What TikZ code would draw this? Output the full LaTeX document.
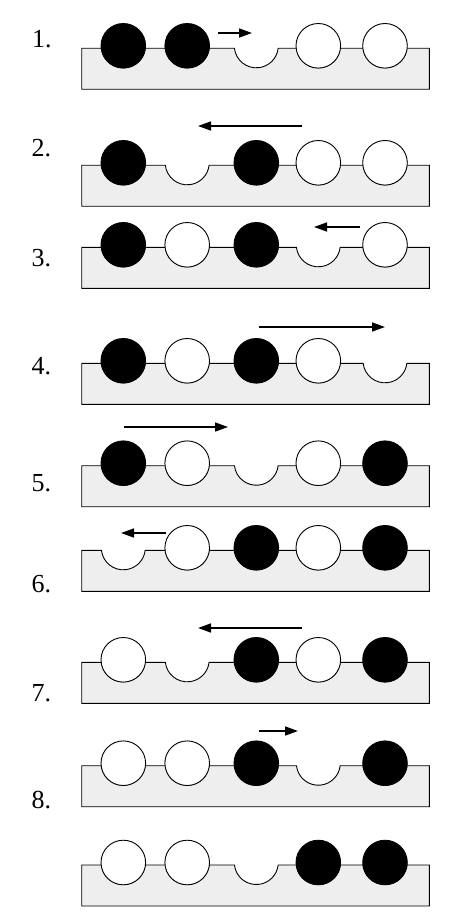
\documentclass[tikz,border=0pt]{standalone}
\usepackage{fontspec}
\setmainfont{Liberation Serif}
\usetikzlibrary{arrows.meta}
\definecolor{boardgray}{RGB}{238,238,238}
\newcommand\boardat[1]{%
  \draw[boardst] (81.7,#1) -- (101.44,#1)
    arc[start angle=173.5,end angle=6.5,radius=22] -- (165.34,#1)
    arc[start angle=173.5,end angle=6.5,radius=22] -- (234.44,#1)
    arc[start angle=173.5,end angle=6.5,radius=22] -- (296.44,#1)
    arc[start angle=173.5,end angle=6.5,radius=22] -- (363.14,#1)
    arc[start angle=173.5,end angle=6.5,radius=22] -- (429.3,#1)
    -- (429.3,#1+41) -- (81.7,#1+41) -- cycle;}
\newcommand\rowat[3]{%
  \boardat{#1}%
  \foreach \xx in {#2} {\draw[bk] (\xx,#1-2.5) circle[radius=22.3];}%
  \foreach \xx in {#3} {\draw[wt] (\xx,#1-2.5) circle[radius=22.3];}}
\begin{document}
\begin{tikzpicture}[x=1pt,y=-1pt,
  boardst/.style={draw=black, line width=0.9pt, fill=boardgray},
  bk/.style={draw=black, line width=0.9pt, fill=black},
  wt/.style={draw=black, line width=0.9pt, fill=white},
  mv/.style={line width=1.6pt, -{Triangle[length=13pt,width=9pt]}},
  lbl/.style={anchor=base west, inner sep=0pt, font=\fontsize{26}{26}\selectfont}]
\useasboundingbox (0,0) rectangle (450,917);

% labels
\node[lbl] (l1) at (32.0,47.7) {1.};
\node[lbl] (l2) at (31.5,156.7) {2.};
\node[lbl] (l3) at (31.5,266.0) {3.};
\node[lbl] (l4) at (31.5,374.3) {4.};
\node[lbl] (l5) at (31.5,491.7) {5.};
\node[lbl] (l6) at (31.5,592.3) {6.};
\node[lbl] (l7) at (31.5,701.0) {7.};
\node[lbl] (l8) at (31.5,808.3) {8.};

% rows: top line, black balls, white balls
\rowat{48.3}{123.3,187.2}{318.3,385}
\rowat{165.3}{123.3,256.3}{318.3,385}
\rowat{247.3}{123.3,256.3}{187.2,385}
\rowat{363.3}{123.3,256.3}{187.2,318.3}
\rowat{465.7}{123.3,385}{187.2,318.3}
\rowat{550.3}{256.3,385}{187.2,318.3}
\rowat{662.3}{256.3,385}{123.3,318.3}
\rowat{765.7}{256.3,385}{123.3,187.2}
\rowat{865}{318.3,385}{123.3,187.2}

% move arrows
\coordinate (a1s) at (218,33);  \coordinate (a1e) at (252,33);
\coordinate (a2s) at (302,126); \coordinate (a2e) at (198,126);
\coordinate (a3s) at (360,227); \coordinate (a3e) at (314,227);
\coordinate (a4s) at (259,327); \coordinate (a4e) at (385,327);
\coordinate (a5s) at (124,427); \coordinate (a5e) at (228,427);
\coordinate (a6s) at (166,533); \coordinate (a6e) at (121,533);
\coordinate (a7s) at (302,628); \coordinate (a7e) at (198,628);
\coordinate (a8s) at (259,731); \coordinate (a8e) at (298,731);
\foreach \k in {1,...,8} {\draw[mv] (a\k s) -- (a\k e);}
\end{tikzpicture}
\end{document}
